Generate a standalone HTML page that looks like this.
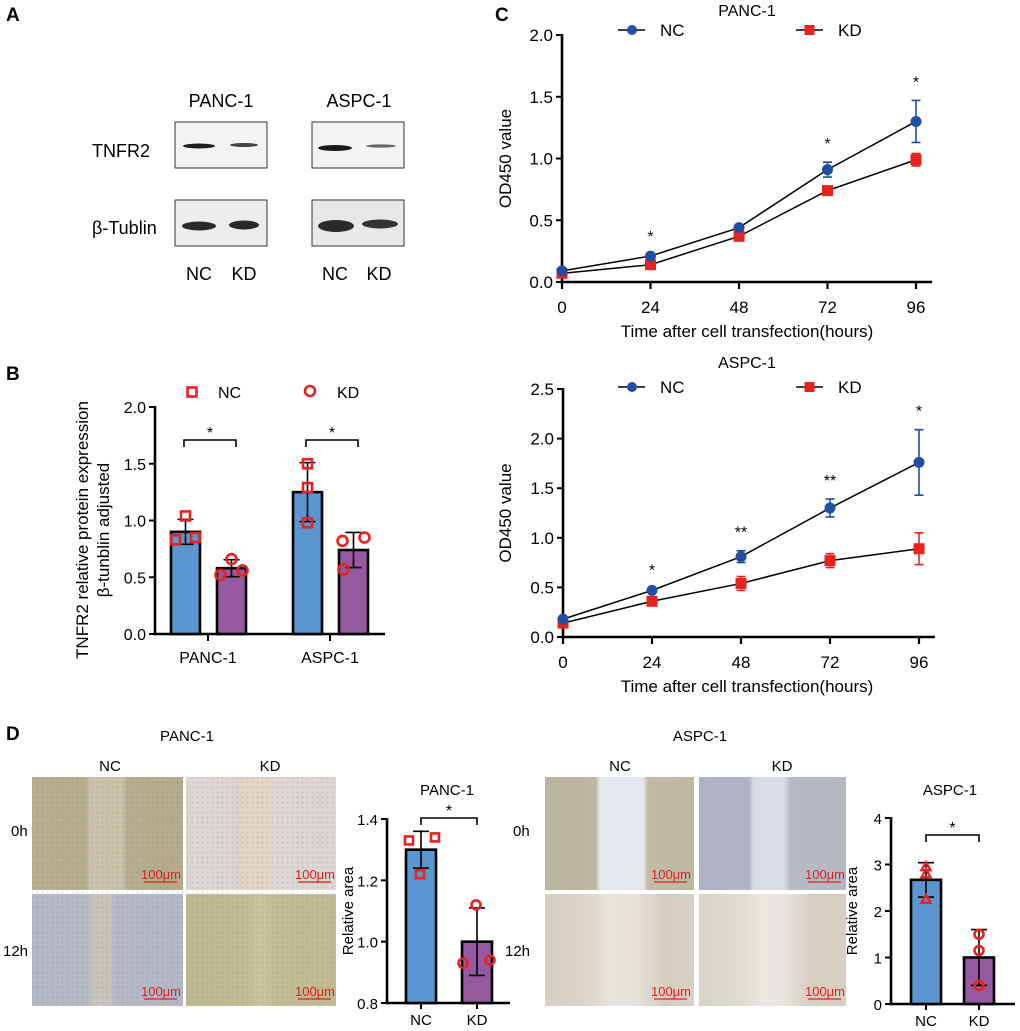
<!DOCTYPE html>
<html><head><meta charset="utf-8"><style>
html,body{margin:0;padding:0;background:#fff;}
svg{display:block;font-family:"Liberation Sans",Arial,sans-serif;}
</style></head><body>
<svg id="fig" xmlns="http://www.w3.org/2000/svg" width="1020" height="1031" viewBox="0 0 1020 1031">
<defs>
<linearGradient id="g-pnc0"><stop offset="0" stop-color="#b9b08f"/><stop offset="0.36" stop-color="#b6ad8c"/><stop offset="0.38" stop-color="#cbc3a9"/><stop offset="0.60" stop-color="#cbc3a9"/><stop offset="0.63" stop-color="#b8ae8c"/><stop offset="1" stop-color="#b4ab8a"/></linearGradient>
<linearGradient id="g-pkd0"><stop offset="0" stop-color="#dcd8d2"/><stop offset="0.35" stop-color="#dad5cf"/><stop offset="0.37" stop-color="#e3d4c4"/><stop offset="0.56" stop-color="#e3d4c4"/><stop offset="0.59" stop-color="#dcd8d2"/><stop offset="1" stop-color="#dad6d0"/></linearGradient>
<linearGradient id="g-pnc12"><stop offset="0" stop-color="#b4b9c6"/><stop offset="0.38" stop-color="#b7bbc6"/><stop offset="0.40" stop-color="#c9c5bc"/><stop offset="0.52" stop-color="#c9c5bc"/><stop offset="0.55" stop-color="#b6bac6"/><stop offset="1" stop-color="#b3b8c5"/></linearGradient>
<linearGradient id="g-pkd12"><stop offset="0" stop-color="#bdb98e"/><stop offset="0.42" stop-color="#c2bd92"/><stop offset="0.5" stop-color="#ccc69e"/><stop offset="0.58" stop-color="#c3be93"/><stop offset="1" stop-color="#bfbb90"/></linearGradient>
<linearGradient id="g-anc0"><stop offset="0" stop-color="#bab59f"/><stop offset="0.34" stop-color="#bcb7a2"/><stop offset="0.37" stop-color="#e6e9ec"/><stop offset="0.66" stop-color="#e6e9ec"/><stop offset="0.69" stop-color="#c2bca6"/><stop offset="1" stop-color="#bdb8a2"/></linearGradient>
<linearGradient id="g-akd0"><stop offset="0" stop-color="#aeb2c2"/><stop offset="0.34" stop-color="#b0b4c4"/><stop offset="0.37" stop-color="#d7dce7"/><stop offset="0.58" stop-color="#d7dce7"/><stop offset="0.62" stop-color="#b8bbc5"/><stop offset="1" stop-color="#b4b7c2"/></linearGradient>
<linearGradient id="g-anc12"><stop offset="0" stop-color="#d6cfc2"/><stop offset="0.3" stop-color="#dcd6cb"/><stop offset="0.45" stop-color="#e9e5df"/><stop offset="0.62" stop-color="#e6e1d9"/><stop offset="0.8" stop-color="#d5cdbf"/><stop offset="1" stop-color="#d8d1c5"/></linearGradient>
<linearGradient id="g-akd12"><stop offset="0" stop-color="#d9d3c8"/><stop offset="0.3" stop-color="#e1dcd3"/><stop offset="0.45" stop-color="#ebe8e3"/><stop offset="0.58" stop-color="#e8e4de"/><stop offset="0.75" stop-color="#d7cfc2"/><stop offset="1" stop-color="#d6cfc2"/></linearGradient>
<pattern id="cells" width="5" height="5" patternUnits="userSpaceOnUse"><circle cx="2.5" cy="2.5" r="1.1" fill="#6670a0" fill-opacity="0.18"/></pattern>
</defs>

<text x="6" y="21" font-size="19" font-weight="bold">A</text>
<text x="6" y="380" font-size="19" font-weight="bold">B</text>
<text x="495" y="21" font-size="19" font-weight="bold">C</text>
<text x="6" y="740" font-size="19" font-weight="bold">D</text>

<g>
<text x="221" y="107" font-size="18" text-anchor="middle">PANC-1</text>
<text x="359" y="107" font-size="18" text-anchor="middle">ASPC-1</text>
<text x="92" y="157" font-size="18">TNFR2</text>
<text x="92" y="234" font-size="18">β-Tublin</text>
<rect x="175" y="122" width="92" height="46" fill="#f3f3f3" stroke="#333" stroke-width="1"/>
<rect x="312" y="122" width="92" height="46" fill="#f3f3f3" stroke="#333" stroke-width="1"/>
<rect x="175" y="200" width="92" height="46" fill="#ededed" stroke="#333" stroke-width="1"/>
<rect x="312" y="200" width="92" height="46" fill="#e8e8e8" stroke="#333" stroke-width="1"/>
<ellipse cx="199" cy="146" rx="16" ry="2.5" fill="#1e1e1e"/>
<ellipse cx="244" cy="145" rx="14" ry="2" fill="#444"/>
<ellipse cx="335" cy="148" rx="17" ry="3" fill="#1a1a1a"/>
<ellipse cx="381" cy="146" rx="15" ry="1.6" fill="#666"/>
<ellipse cx="199" cy="226" rx="17" ry="4.5" fill="#2a2a2a"/>
<ellipse cx="244" cy="225" rx="15" ry="4.5" fill="#2a2a2a"/>
<ellipse cx="336" cy="226" rx="18" ry="6" fill="#2a2a2a"/>
<ellipse cx="380" cy="224" rx="18" ry="4.5" fill="#333"/>
<text x="199" y="280" font-size="18" text-anchor="middle">NC</text>
<text x="244" y="280" font-size="18" text-anchor="middle">KD</text>
<text x="335" y="280" font-size="18" text-anchor="middle">NC</text>
<text x="379" y="280" font-size="18" text-anchor="middle">KD</text>
</g>

<g>
<text x="187" y="741" font-size="15" text-anchor="middle">PANC-1</text>
<text x="110" y="771" font-size="15" text-anchor="middle">NC</text>
<text x="270" y="771" font-size="15" text-anchor="middle">KD</text>
<text x="11" y="836" font-size="15">0h</text>
<text x="3" y="956" font-size="15">12h</text>
<rect x="32" y="777" width="151" height="113" fill="url(#g-pnc0)"/>
<rect x="186" y="777" width="150" height="113" fill="url(#g-pkd0)"/>
<rect x="32" y="894" width="151" height="112" fill="url(#g-pnc12)"/>
<rect x="186" y="894" width="150" height="112" fill="url(#g-pkd12)"/>
<rect x="32" y="777" width="304" height="229" fill="url(#cells)"/>
</g>
<g>
<text x="700" y="741" font-size="15" text-anchor="middle">ASPC-1</text>
<text x="620" y="771" font-size="15" text-anchor="middle">NC</text>
<text x="782" y="771" font-size="15" text-anchor="middle">KD</text>
<text x="513" y="836" font-size="15">0h</text>
<text x="505" y="956" font-size="15">12h</text>
<rect x="545" y="777" width="149" height="113" fill="url(#g-anc0)"/>
<rect x="699" y="777" width="147" height="113" fill="url(#g-akd0)"/>
<rect x="545" y="894" width="149" height="112" fill="url(#g-anc12)"/>
<rect x="699" y="894" width="147" height="112" fill="url(#g-akd12)"/>
</g>
</svg>

<script>
// ---------- Data ----------
const bGroups = ['PANC-1', 'ASPC-1'];
const bTicks = [0, 0.5, 1.0, 1.5, 2.0];
const bNC = [0.90, 1.25];
const bKD = [0.58, 0.74];
const bNCerr = [0.11, 0.26];
const bKDerr = [0.075, 0.155];
const bNCpts = [[0.83, 1.04, 0.85], [1.50, 1.29, 0.98]];
const bKDpts = [[0.52, 0.66, 0.56], [0.82, 0.85, 0.57]];

const cTimes = [0, 24, 48, 72, 96];
const c1Ticks = [0, 0.5, 1.0, 1.5, 2.0];
const c1NC = [0.09, 0.21, 0.44, 0.91, 1.30];
const c1NCerr = [0.01, 0.01, 0.02, 0.06, 0.17];
const c1KD = [0.07, 0.14, 0.37, 0.74, 0.99];
const c1KDerr = [0.01, 0.01, 0.02, 0.02, 0.05];
const c1Stars = ['', '*', '', '*', '*'];

const c2Ticks = [0, 0.5, 1.0, 1.5, 2.0, 2.5];
const c2NC = [0.18, 0.47, 0.81, 1.30, 1.76];
const c2NCerr = [0.01, 0.02, 0.06, 0.09, 0.33];
const c2KD = [0.14, 0.36, 0.54, 0.77, 0.89];
const c2KDerr = [0.01, 0.02, 0.07, 0.07, 0.16];
const c2Stars = ['', '*', '**', '**', '*'];

const dCats = ['NC', 'KD'];
const d1Ticks = [0.8, 1.0, 1.2, 1.4];
const d1Vals = [1.30, 1.00];
const d1Err = [0.06, 0.11];
const d1Pts = [[1.33, 1.34, 1.22], [1.12, 0.93, 0.94]];
const d2Ticks = [0, 1, 2, 3, 4];
const d2Vals = [2.67, 1.00];
const d2Err = [0.37, 0.60];
const d2Pts = [[2.95, 2.80, 2.25], [1.50, 1.15, 0.40]];

// ---------- helpers ----------
const NS = 'http://www.w3.org/2000/svg';
const svg = document.getElementById('fig');
function mk(tag, attrs, parent) {
  const e = document.createElementNS(NS, tag);
  for (const k in attrs) e.setAttribute(k, attrs[k]);
  (parent || svg).appendChild(e);
  return e;
}
function tx(x, y, s, size, anchor, parent) {
  const t = mk('text', {x: x, y: y, 'font-size': size, 'text-anchor': anchor || 'middle', fill: '#000'}, parent);
  t.textContent = s;
  return t;
}
const RED = '#e8231f', BLUE = '#1f4ea3', BARB = '#5b96d1', BARP = '#9459a1';

function yAxis(g, ax, ticks, yf, x0, x1, fmt, fs) {
  const top = yf(ticks[ticks.length - 1]);
  const bot = yf(ticks[0]);
  const a = mk('line', {x1: ax, y1: top - 1, x2: ax, y2: bot + 1.2, stroke: '#000', 'stroke-width': 2.6}, g);
  
  
  const b = mk('line', {x1: ax - 1.2, y1: bot, x2: x1, y2: bot, stroke: '#000', 'stroke-width': 2.6}, g);
  
  
  ticks.forEach(v => {
    const tk = mk('line', {x1: ax - 6, y1: yf(v), x2: ax, y2: yf(v), stroke: '#000', 'stroke-width': 2}, g);
    
    
    const lb = tx(ax - 9, yf(v) + 6, fmt(v), fs, 'end', g);
    
    
  });
}
function square(g, x, y, s, col) {
  return mk('rect', {x: x - s / 2, y: y - s / 2, width: s, height: s, fill: 'none', stroke: col, 'stroke-width': 2.6}, g);
}
function circ(g, x, y, r, col) {
  return mk('circle', {cx: x, cy: y, r: r, fill: 'none', stroke: col, 'stroke-width': 2.6}, g);
}
function tri(g, x, y, s, col) {
  return mk('polygon', {points: (x) + ',' + (y - s) + ' ' + (x - s) + ',' + (y + s * 0.75) + ' ' + (x + s) + ',' + (y + s * 0.75), fill: 'none', stroke: col, 'stroke-width': 2.4}, g);
}
function errBar(g, x, y1, y2, cap, col, w) {
  const e = mk('path', {d: 'M' + x + ',' + y1 + 'V' + y2 + 'M' + (x - cap / 2) + ',' + y1 + 'h' + cap + 'M' + (x - cap / 2) + ',' + y2 + 'h' + cap, stroke: col, 'stroke-width': w, fill: 'none'}, g);
  
  
  return e;
}
function bracket(g, xa, xb, y, star) {
  const p = mk('path', {d: 'M' + xa + ',' + (y + 7) + 'V' + y + 'H' + xb + 'V' + (y + 7), stroke: '#000', 'stroke-width': 1.6, fill: 'none'}, g);
  
  
  const s = tx((xa + xb) / 2, y - 2, star, 16, 'middle', g);
  
  
}

// ---------- Panel B ----------
(function () {
  const g = mk('g', {});
  
  
  const yB = v => 634 - v * 113.5;
  yAxis(g, 155, bTicks, yB, 155, 385, v => v.toFixed(1), 16);
  const centers = [208, 330];
  const offs = [[[-10, 0, 10], [-11, 0, 11]], [[0, 0, 0], [-11, 11, -10]]];
  const l1 = square(g, 192, 392, 9, RED);
  
  
  const l1t = tx(218, 398, 'NC', 16, 'start', g);
  
  
  const l2 = circ(g, 310, 391, 5, RED);
  
  
  const l2t = tx(337, 398, 'KD', 16, 'start', g);
  
  
  bGroups.forEach((name, i) => {
    const cx = centers[i];
    [[bNC, bNCerr, bNCpts, BARB, -22.5, 'nc'], [bKD, bKDerr, bKDpts, BARP, 23.5, 'kd']].forEach((s, j) => {
      const bx = cx + s[4];
      const v = s[0][i];
      const r = mk('rect', {x: bx - 14.5, y: yB(v), width: 29, height: 634 - yB(v), fill: s[3], stroke: '#000', 'stroke-width': 2.6}, g);
      
      
      errBar(g, bx, yB(v - s[1][i]), yB(v + s[1][i]), 16, '#000', 1.6);
      s[2][i].forEach((p, k) => {
        const px = bx + offs[i][j][k];
        const m = j === 0 ? square(g, px, yB(p), 9, RED) : circ(g, px, yB(p), 5, RED);
        
        
      });
    });
    const tk = mk('line', {x1: cx, y1: 634, x2: cx, y2: 641, stroke: '#000', 'stroke-width': 2}, g);
    
    
    const lb = tx(cx, 663, name, 16, 'middle', g);
    
    
    bracket(g, cx - 24, cx + 28, 440, '*');
  });
  const yl = mk('text', {transform: 'translate(88,530) rotate(-90)', 'font-size': 17, 'text-anchor': 'middle'}, g);
  
  
  const s1 = mk('tspan', {x: 0, y: 0}, yl);
  s1.textContent = 'TNFR2 relative protein expression';
  const s2 = mk('tspan', {x: 0, dy: 21}, yl);
  s2.textContent = 'β-tunblin adjusted';
})();

// ---------- Panel C ----------
function lineChart(name, title, ax, yTop, yBot, ticks, xEnd, tYs, nc, ncErr, kd, kdErr, stars) {
  const g = mk('g', {});
  
  
  const maxT = ticks[ticks.length - 1];
  const yf = v => yBot - v * (yBot - yTop) / maxT;
  const xf = t => ax + t * ((xEnd - 16 - ax) / 96);
  yAxis(g, ax, ticks, yf, ax, xEnd, v => v.toFixed(1), 17);
  const tt = tx(747, tYs[0], title, 16, 'middle', g);
  
  
  const ly = tYs[1];
  const la = mk('line', {x1: 618, y1: ly, x2: 645, y2: ly, stroke: '#000', 'stroke-width': 1.6}, g);
  
  
  const lm = mk('circle', {cx: 632, cy: ly, r: 5, fill: BLUE}, g);
  
  
  const lt = tx(660, ly + 6, 'NC', 17, 'start', g);
  
  
  const lb2 = mk('line', {x1: 796, y1: ly, x2: 823, y2: ly, stroke: '#000', 'stroke-width': 1.6}, g);
  
  
  const lm2 = mk('rect', {x: 804.5, y: ly - 5, width: 10, height: 10, fill: RED}, g);
  
  
  const lt2 = tx(838, ly + 6, 'KD', 17, 'start', g);
  
  
  cTimes.forEach(t => {
    const tk = mk('line', {x1: xf(t), y1: yBot, x2: xf(t), y2: yBot + 7, stroke: '#000', 'stroke-width': 2.2}, g);
    
    
    const l = tx(xf(t), yBot + 31, String(t), 17, 'middle', g);
    
    
  });
  const xt = tx(747, yBot + 55, 'Time after cell transfection(hours)', 17, 'middle', g);
  
  
  const yt = tx(0, 0, 'OD450 value', 17, 'middle', g);
  yt.setAttribute('transform', 'translate(511,' + ((yTop + yBot) / 2) + ') rotate(-90)');
  
  
  const pNC = mk('polyline', {points: cTimes.map((t, i) => xf(t) + ',' + yf(nc[i])).join(' '), fill: 'none', stroke: '#000', 'stroke-width': 1.5}, g);
  
  
  const pKD = mk('polyline', {points: cTimes.map((t, i) => xf(t) + ',' + yf(kd[i])).join(' '), fill: 'none', stroke: '#000', 'stroke-width': 1.5}, g);
  
  
  cTimes.forEach((t, i) => {
    errBar(g, xf(t), yf(kd[i] - kdErr[i]), yf(kd[i] + kdErr[i]), 9, RED, 1.6);
    const m = mk('rect', {x: xf(t) - 5.5, y: yf(kd[i]) - 5.5, width: 11, height: 11, fill: RED}, g);
    
    
  });
  cTimes.forEach((t, i) => {
    errBar(g, xf(t), yf(nc[i] - ncErr[i]), yf(nc[i] + ncErr[i]), 9, BLUE, 1.6);
    const m = mk('circle', {cx: xf(t), cy: yf(nc[i]), r: 5.5, fill: BLUE}, g);
    
    
    if (stars[i]) {
      const s = tx(xf(t), yf(nc[i] + ncErr[i]) - 13, stars[i], 16, 'middle', g);
      
      
    }
  });
}
lineChart('panel-c-panc1-chart', 'PANC-1', 562, 35, 282, c1Ticks, 932, [16, 30], c1NC, c1NCerr, c1KD, c1KDerr, c1Stars);
lineChart('panel-c-aspc1-chart', 'ASPC-1', 563, 389, 637, c2Ticks, 935, [368, 387], c2NC, c2NCerr, c2KD, c2KDerr, c2Stars);

// ---------- Panel D bar charts ----------
function smallBars(name, title, ax, yTop, yBot, ticks, xEnd, centers, vals, errs, pts, offs, fmt, titleX, ncShape) {
  const g = mk('g', {});
  
  
  const t0 = ticks[0], t1 = ticks[ticks.length - 1];
  const yf = v => yBot - (v - t0) * (yBot - yTop) / (t1 - t0);
  yAxis(g, ax, ticks, yf, ax, xEnd, fmt, 15);
  const tt = tx(titleX, 795, title, 15, 'middle', g);
  
  
  const yt = tx(0, 0, 'Relative area', 15, 'middle', g);
  yt.setAttribute('transform', 'translate(' + (ax - 34) + ',' + ((yTop + yBot) / 2) + ') rotate(-90)');
  
  
  dCats.forEach((c, i) => {
    const cx = centers[i];
    const r = mk('rect', {x: cx - 15, y: yf(vals[i]), width: 30, height: yBot - yf(vals[i]), fill: i === 0 ? BARB : BARP, stroke: '#000', 'stroke-width': 2.6}, g);
    
    
    errBar(g, cx, yf(vals[i] - errs[i]), yf(vals[i] + errs[i]), 16, '#000', 1.6);
    pts[i].forEach((p, k) => {
      const px = cx + offs[i][k];
      let m;
      if (i === 0 && ncShape === 'square') m = square(g, px, yf(p), 8, RED);
      else if (i === 0) m = tri(g, px, yf(p), 4.5, RED);
      else m = circ(g, px, yf(p), 4.5, RED);
      
      
    });
    const tk = mk('line', {x1: cx, y1: yBot, x2: cx, y2: yBot + 6, stroke: '#000', 'stroke-width': 2}, g);
    
    
    const lb = tx(cx, yBot + 22, c, 15, 'middle', g);
    
    
  });
  bracket(g, centers[0], centers[1], yTop + (name.indexOf('aspc') >= 0 ? 17 : -1), '*');
}
smallBars('panel-d-panc1-bar-chart', 'PANC-1', 387, 819, 1003, d1Ticks, 510, [421, 477], d1Vals, d1Err, d1Pts, [[-12, 14, -1], [-1, -14, 13]], v => v.toFixed(1), 447, 'square');
smallBars('panel-d-aspc1-bar-chart', 'ASPC-1', 891, 818, 1004, d2Ticks, 1015, [926, 979], d2Vals, d2Err, d2Pts, [[0, 0, 0], [0, 0, 0]], v => String(v), 950, 'triangle');

[[32, 777], [186, 777], [32, 894], [186, 894], [545, 777], [699, 777], [545, 894], [699, 894]].forEach(p => {
  const w = (p[0] === 545 || p[0] === 699) ? 147 : 150;
  const t = tx(p[0] + w - 21, p[1] + 102, '100μm', 13, 'middle');
  t.setAttribute('fill', '#e02020');
  
  
  const l = mk('line', {x1: p[0] + w - 38, y1: p[1] + 105, x2: p[0] + w - 5, y2: p[1] + 105, stroke: '#e02020', 'stroke-width': 1.3});
  
  
});
</script>
</body></html>
